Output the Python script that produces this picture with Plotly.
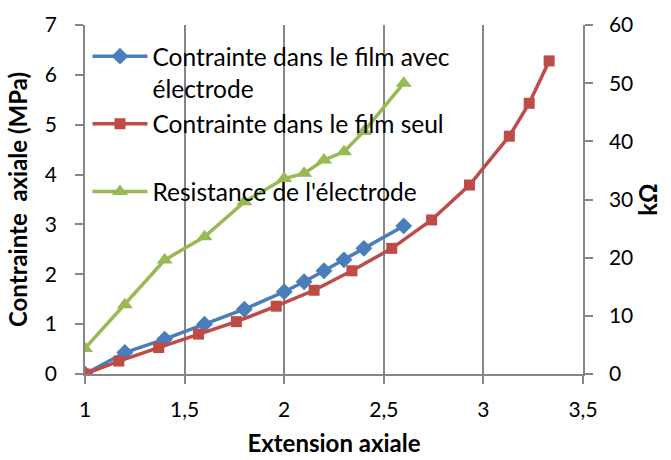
import plotly.graph_objects as go

# Data
x_blue = [1.0, 1.2, 1.4, 1.6, 1.8, 2.0, 2.1, 2.2, 2.3, 2.4, 2.6]
y_blue = [0.0, 0.43, 0.70, 1.00, 1.30, 1.65, 1.85, 2.07, 2.29, 2.52, 2.97]

x_red = [1.0, 1.17, 1.37, 1.57, 1.76, 1.96, 2.15, 2.34, 2.54, 2.74, 2.93, 3.13, 3.23, 3.33]
y_red = [0.0, 0.26, 0.53, 0.80, 1.05, 1.36, 1.68, 2.07, 2.52, 3.09, 3.79, 4.77, 5.43, 6.28]

x_green = [1.0, 1.2, 1.4, 1.6, 1.8, 2.0, 2.1, 2.2, 2.3, 2.4, 2.6]
r_green = [4.4, 11.9, 19.6, 23.6, 29.6, 33.6, 34.5, 36.8, 38.2, 41.7, 50.0]

names = ["Contrainte dans le film avec<br>électrode",
         "Contrainte dans le film seul<br> ",
         "Resistance de l'électrode"]

BLUE = "#4A7EBB"
RED = "#BE4B48"
GREEN = "#98B954"
GRID = "#868686"
FONT = "Lato"

fig = go.Figure()
fig.add_trace(go.Scatter(x=x_blue, y=y_blue, name=names[0], mode="lines+markers",
                         legendgroup="a",
                         line=dict(color=BLUE, width=3.5),
                         marker=dict(symbol="diamond", size=13, color=BLUE)))
fig.add_trace(go.Scatter(x=x_red, y=y_red, name=names[1], mode="lines+markers",
                         legendgroup="b",
                         line=dict(color=RED, width=3.5),
                         marker=dict(symbol="square", size=11, color=RED)))
fig.add_trace(go.Scatter(x=x_green, y=r_green, name=names[2], mode="lines+markers",
                         legendgroup="c", yaxis="y2",
                         line=dict(color=GREEN, width=3.5),
                         marker=dict(symbol="triangle-up", size=14, color=GREEN)))

axis_common = dict(showline=True, linecolor=GRID, linewidth=1.5,
                   ticks="outside", ticklen=8, tickcolor=GRID, tickwidth=1.5,
                   zeroline=False, automargin=False,
                   tickfont=dict(size=21))

fig.update_layout(
    width=671, height=460,
    margin=dict(l=85, r=88, t=25, b=86),
    paper_bgcolor="white", plot_bgcolor="white",
    font=dict(family=FONT, size=21, color="black"),
    separators=", ",
    showlegend=True,
    legend=dict(x=0.005, y=0.975, xanchor="left", yanchor="top",
                bgcolor="rgba(0,0,0,0)", font=dict(family=FONT, size=24.5),
                tracegroupgap=1, itemwidth=55, valign="top"),
    xaxis=dict(range=[1, 3.5], dtick=0.5, tick0=1,
               showgrid=True, gridcolor=GRID, gridwidth=1.5,
               ticklabelstandoff=8,
               title=dict(text="<b>Extension axiale</b>", font=dict(size=24), standoff=15),
               **axis_common),
    yaxis=dict(range=[0, 7], dtick=1, showgrid=False,
               ticklabelstandoff=14,
               title=dict(text="<b>Contrainte  axiale (MPa)</b>", font=dict(size=24), standoff=10),
               **axis_common),
    yaxis2=dict(range=[0, 60], dtick=10, overlaying="y", side="right", showgrid=False,
                ticklabelstandoff=12,
                title=dict(text="<b>kΩ</b>", font=dict(size=24), standoff=6),
                **axis_common),
)

fig.write_html("out.html",
               config={"displayModeBar": False},
               post_script="document.body.style.margin='0';document.body.style.padding='0';")
